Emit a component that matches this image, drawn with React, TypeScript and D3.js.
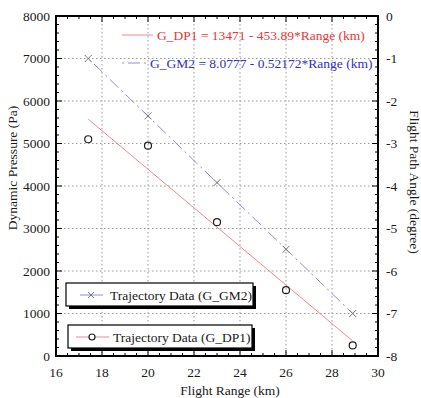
import React from "react";
import * as d3 from "d3";

// Flight range samples (km)
const rangeKm = [17.4, 20, 23, 26, 28.9];
// Dynamic pressure trajectory data (Pa)
const dynPressure = [5100, 4950, 3150, 1550, 250];
// Flight path angle trajectory data (degree)
const pathAngle = [-1.0, -2.35, -3.92, -5.49, -7.0];

// Linear fits
const dpFit = { a: 13471, b: 453.89 };
const gmFit = { a: 8.0777, b: 0.52172 };

const xTicks = [16, 18, 20, 22, 24, 26, 28, 30];
const yLeftTicks = [0, 1000, 2000, 3000, 4000, 5000, 6000, 7000, 8000];
const yRightTicks = [0, -1, -2, -3, -4, -5, -6, -7, -8];

const W = 421;
const H = 398;
const M = { left: 56, right: 378, top: 16, bottom: 356 };
const FONT = "Liberation Serif";

export default function App() {
  const x = d3.scaleLinear().domain([16, 30]).range([M.left, M.right]);
  const yL = d3.scaleLinear().domain([0, 8000]).range([M.bottom, M.top]);
  const yR = d3.scaleLinear().domain([-8, 0]).range([M.bottom, M.top]);

  const xMinor = d3.range(16, 30.001, 0.5);
  const yLMinor = d3.range(0, 8000.1, 200);
  const yRMinor = d3.range(-8, 0.001, 0.2);

  const fitX = [rangeKm[0], rangeKm[rangeKm.length - 1]];
  const dpLine = d3
    .line<number>()
    .x((r) => x(r))
    .y((r) => yL(dpFit.a - dpFit.b * r));
  const gmLine = d3
    .line<number>()
    .x((r) => x(r))
    .y((r) => yR(gmFit.a - gmFit.b * r));

  const red = "#e83838";
  const redLine = "#ee8a8a";
  const blue = "#3030c8";
  const blueLine = "#8c8ce0";
  const dash = "12 4 2 4";
  const ink = "#1a1a1a";

  const cross = (cx: number, cy: number, s = 3.5, key?: React.Key) => (
    <g key={key} stroke="#777" strokeWidth={1}>
      <line x1={cx - s} y1={cy - s} x2={cx + s} y2={cy + s} />
      <line x1={cx - s} y1={cy + s} x2={cx + s} y2={cy - s} />
    </g>
  );

  const txt = { fontFamily: FONT };

  return (
    <svg
      width={W}
      height={H}
      style={{ position: "absolute", left: 0, top: 0, background: "#fff" }}
    >
      {/* grid */}
      <g stroke="#999" strokeWidth={1} strokeDasharray="1.5 2.5">
        {xTicks.slice(1, -1).map((t) => (
          <line key={"gx" + t} x1={x(t)} x2={x(t)} y1={M.top} y2={M.bottom} />
        ))}
        {yLeftTicks.slice(1, -1).map((t) => (
          <line key={"gy" + t} x1={M.left} x2={M.right} y1={yL(t)} y2={yL(t)} />
        ))}
      </g>

      {/* ticks */}
      <g stroke="#000" strokeWidth={1}>
        {xMinor.map((t) => {
          const major = Math.abs(t - Math.round(t / 2) * 2) < 1e-6;
          const len = major ? 6 : 3;
          return (
            <g key={"xt" + t}>
              <line x1={x(t)} x2={x(t)} y1={M.bottom} y2={M.bottom - len} />
              <line x1={x(t)} x2={x(t)} y1={M.top} y2={M.top + len} />
            </g>
          );
        })}
        {yLMinor.map((t) => {
          const major = Math.abs(t % 1000) < 1e-6;
          const len = major ? 6 : 3;
          return <line key={"yl" + t} x1={M.left} x2={M.left + len} y1={yL(t)} y2={yL(t)} />;
        })}
        {yRMinor.map((t) => {
          const major = Math.abs(t - Math.round(t)) < 1e-6;
          const len = major ? 6 : 3;
          return <line key={"yr" + t} x1={M.right} x2={M.right - len} y1={yR(t)} y2={yR(t)} />;
        })}
      </g>

      {/* fits */}
      <path d={dpLine(fitX) ?? ""} fill="none" stroke={redLine} strokeWidth={1} />
      <path
        d={gmLine(fitX) ?? ""}
        fill="none"
        stroke={blueLine}
        strokeWidth={1}
        strokeDasharray={dash}
        strokeDashoffset={-8}
      />

      {/* trajectory markers */}
      {rangeKm.map((r, i) => cross(x(r), yR(pathAngle[i]), 3.5, "c" + i))}
      {rangeKm.map((r, i) => (
        <circle
          key={"o" + i}
          cx={x(r)}
          cy={yL(dynPressure[i])}
          r={3.5}
          fill="none"
          stroke="#222"
          strokeWidth={1.2}
        />
      ))}

      {/* frame */}
      <rect
        x={M.left}
        y={M.top}
        width={M.right - M.left}
        height={M.bottom - M.top}
        fill="none"
        stroke="#000"
        strokeWidth={2}
      />

      {/* tick labels */}
      <g fontSize={13.5} fill={ink}>
        {xTicks.map((t) => (
          <text key={"lx" + t} x={x(t)} y={377} textAnchor="middle" style={txt}>
            {t}
          </text>
        ))}
        {yLeftTicks.map((t) => (
          <text key={"ll" + t} x={50} y={yL(t) + 4.5} textAnchor="end" style={txt}>
            {t}
          </text>
        ))}
        {yRightTicks.map((t) => (
          <text key={"lr" + t} x={386} y={yR(t) + 4.5} textAnchor="start" style={txt}>
            {t}
          </text>
        ))}
      </g>

      {/* axis titles */}
      <g fontSize={13.5} fill={ink}>
        <text x={230} y={395} textAnchor="middle" style={txt}>
          Flight Range (km)
        </text>
        <text transform="translate(17,168) rotate(-90)" textAnchor="middle" style={txt}>
          Dynamic Pressure (Pa)
        </text>
        <text transform="translate(410,182) rotate(90)" textAnchor="middle" style={txt}>
          Flight Path Angle (degree)
        </text>
      </g>

      {/* fit legend */}
      <g fontSize={13.5}>
        <line x1={122} x2={153} y1={35} y2={35} stroke={redLine} strokeWidth={1} />
        <text x={157} y={40} fill={red} style={txt}>
          G_DP1 = 13471 - 453.89*Range (km)
        </text>
        <line
          x1={122}
          x2={146}
          y1={63}
          y2={63}
          stroke={blueLine}
          strokeWidth={1}
          strokeDasharray={dash}
          strokeDashoffset={-6}
        />
        <text x={150} y={68} fill={blue} style={txt}>
          G_GM2 = 8.0777 - 0.52172*Range (km)
        </text>
      </g>

      {/* data legends */}
      <g fontSize={13.5} fill={ink}>
        <rect x={69} y={286} width={187} height={23} fill="#000" />
        <rect x={66} y={283} width={187} height={23} fill="#fff" stroke="#000" strokeWidth={1.2} />
        <line x1={80} x2={103} y1={295} y2={295} stroke={blueLine} strokeWidth={1} />
        {cross(91, 295, 3)}
        <text x={110} y={300} style={txt}>
          Trajectory Data (G_GM2)
        </text>

        <rect x={71} y={328} width={184} height={23} fill="#000" />
        <rect x={68} y={325} width={184} height={23} fill="#fff" stroke="#000" strokeWidth={1.2} />
        <line x1={76} x2={109} y1={337} y2={337} stroke={redLine} strokeWidth={1} />
        <circle cx={92} cy={337} r={3} fill="#fff" stroke="#222" strokeWidth={1.2} />
        <text x={113} y={342} style={txt}>
          Trajectory Data (G_DP1)
        </text>
      </g>
    </svg>
  );
}
